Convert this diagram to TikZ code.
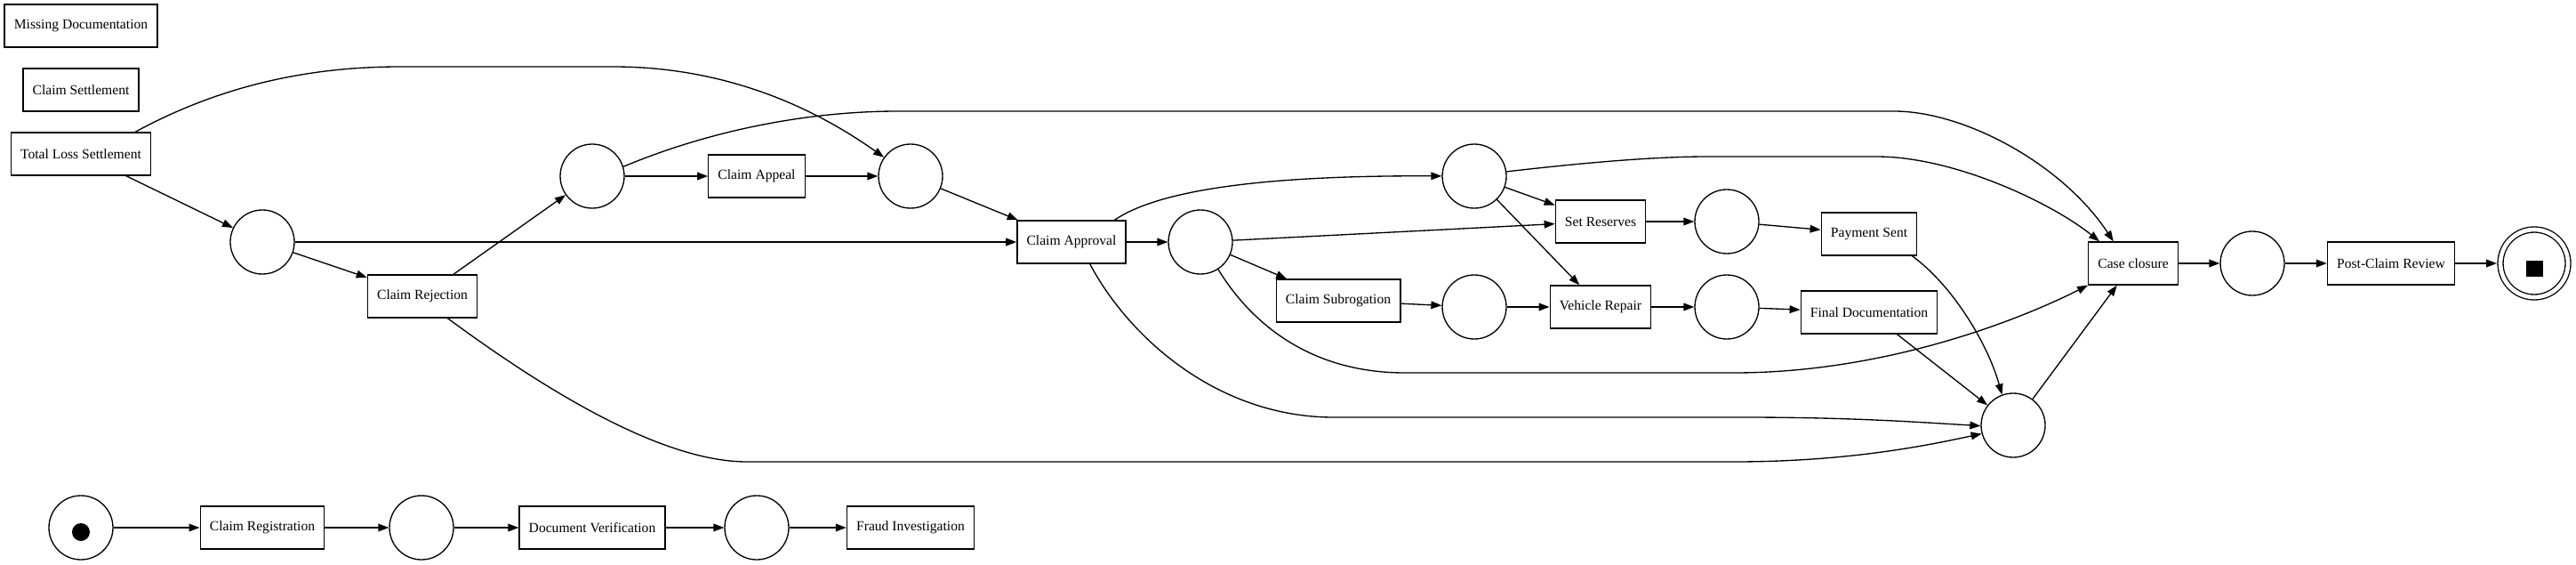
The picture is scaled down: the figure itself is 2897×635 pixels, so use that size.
\documentclass[tikz,border=0pt]{standalone}
\usepackage{fontspec}
\setmainfont{Liberation Serif}
\usepackage{tikz}
\usetikzlibrary{arrows.meta,positioning}
\tikzstyle{transition} = [rectangle, draw, line width=1pt, fill=white, minimum height=36pt, inner xsep=8pt, font=\fontsize{11.7pt}{14pt}\selectfont]
\tikzstyle{place} = [circle, draw, line width=1pt, fill=white, minimum size=54pt, inner sep=0pt]
\tikzstyle{flow} = [line width=1pt, ->, >={Triangle[length=9pt,width=6.5pt]}]

\begin{document}
\begin{tikzpicture}[x=0.75pt, y=-0.75pt]
    \useasboundingbox (0,0) rectangle (2897,635);

    % Loose transitions
    \node[transition] (missing) at (91,29) {Missing Documentation};
    \node[transition] (settle) at (91,101) {Claim Settlement};
    \node[transition] (totalloss) at (91,173) {Total Loss Settlement};

    % Main net
    \node[place] (p1) at (295,272) {};
    \node[transition] (reject) at (475,333) {Claim Rejection};
    \node[place] (p2) at (666,198) {};
    \node[transition] (appeal) at (851,198) {Claim Appeal};
    \node[place] (p3) at (1024,198) {};
    \node[transition] (approve) at (1205,272) {Claim Approval};
    \node[place] (p4) at (1350,272) {};
    \node[place] (p5) at (1658,198) {};
    \node[transition] (reserves) at (1800,249) {Set Reserves};
    \node[place] (p6) at (1942,249) {};
    \node[transition] (payment) at (2102,263) {Payment Sent};
    \node[transition] (subro) at (1505,338) {Claim Subrogation};
    \node[place] (p7) at (1658,345) {};
    \node[transition] (repair) at (1800,345) {Vehicle Repair};
    \node[place] (p8) at (1942,345) {};
    \node[transition] (finaldoc) at (2102,351) {Final Documentation};
    \node[place] (p10) at (2264,478) {};
    \node[transition] (closure) at (2399,296) {Case closure};
    \node[place] (p9) at (2533,296) {};
    \node[transition] (review) at (2689,296) {Post-Claim Review};
    \node[place, double, double distance=3.5pt, minimum size=57pt] (sink) at (2850,296) {};
    \fill ([yshift=-4.5pt]sink.center) ++(-7.1pt,-7.1pt) rectangle ++(14.2pt,14.2pt);

    % Start chain
    \node[place] (source) at (91,593) {};
    \fill ([yshift=-3.75pt]source.center) circle[radius=7.5pt];
    \node[transition] (register) at (295,593) {Claim Registration};
    \node[place] (pa) at (474,593) {};
    \node[transition] (verify) at (666,593) {Document Verification};
    \node[place] (pb) at (851,593) {};
    \node[transition] (fraud) at (1024,593) {Fraud Investigation};

    % Straight arcs
    \draw[flow] (totalloss) -- (p1);
    \draw[flow] (p1) -- (reject);
    \draw[flow] (p1) -- (approve);
    \draw[flow] (reject) -- (p2);
    \draw[flow] (p2) -- (appeal);
    \draw[flow] (appeal) -- (p3);
    \draw[flow] (p3) -- (approve);
    \draw[flow] (approve) -- (p4);
    \draw[flow] (p4) -- (reserves);
    \draw[flow] (p4) -- (subro);
    \draw[flow] (p5) -- (reserves);
    \draw[flow] (p5) -- (repair);
    \draw[flow] (reserves) -- (p6);
    \draw[flow] (p6) -- (payment);
    \draw[flow] (subro) -- (p7);
    \draw[flow] (p7) -- (repair);
    \draw[flow] (repair) -- (p8);
    \draw[flow] (p8) -- (finaldoc);
    \draw[flow] (finaldoc) -- (p10);
    \draw[flow] (p10) -- (closure);
    \draw[flow] (closure) -- (p9);
    \draw[flow] (p9) -- (review);
    \draw[flow, shorten >=2.5pt] (review) -- (sink);
    \draw[flow] (source) -- (register);
    \draw[flow] (register) -- (pa);
    \draw[flow] (pa) -- (verify);
    \draw[flow] (verify) -- (pb);
    \draw[flow] (pb) -- (fraud);

    % Curved arcs
    \draw[flow] (totalloss.22) .. controls (250,95) and (350,75) .. (450,75) -- (690,75) .. controls (800,75) and (900,110) .. (p3);
    \draw[flow] (p2.17) .. controls (790,150) and (900,125) .. (1010,125) -- (2130,125) .. controls (2210,125) and (2320,185) .. (closure.132);
    \draw[flow] (approve.27) .. controls (1305,212) and (1430,197) .. (p5);
    \draw[flow] (p5.8) .. controls (1780,183) and (1860,176) .. (1920,176) -- (2110,176) .. controls (2200,176) and (2310,230) .. (closure.147);
    \draw[flow] (approve.-50) .. controls (1270,380) and (1370,469) .. (1500,469) -- (1960,469) .. controls (2080,469) and (2150,474) .. (p10.181);
    \draw[flow] (reject.-41) .. controls (603,431) and (740,519) .. (840,519) -- (1950,519) .. controls (2080,519) and (2170,500) .. (p10.195);
    \draw[flow] (p4.-57) .. controls (1405,360) and (1470,419) .. (1580,419) -- (1950,419) .. controls (2120,419) and (2270,360) .. (closure.south west);
    \draw[flow] (payment.-27) .. controls (2195,320) and (2235,385) .. (p10.110);
\end{tikzpicture}
\end{document}
